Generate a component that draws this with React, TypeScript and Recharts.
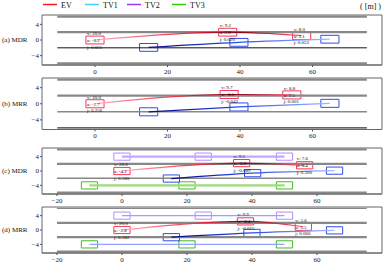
import React from "react";
import {
  ComposedChart,
  Line,
  Scatter,
  XAxis,
  YAxis,
  ReferenceLine,
  ReferenceArea,
} from "recharts";

// lane marking offsets [m]
const laneY = [6, 2, -2, -6];

// ego vehicle snapshots (x, y) per scenario
const evA = [{ x: 0, y: 0 }, { x: 36.6, y: 2 }, { x: 57, y: 1.1 }];
const evB = [{ x: 0, y: 0 }, { x: 37, y: 2.3 }, { x: 54.3, y: 2.2 }];
const evC = [{ x: 0, y: 0 }, { x: 36.8, y: 2.2 }, { x: 56.2, y: 1.6 }];
const evD = [{ x: 0, y: 0 }, { x: 38, y: 2.4 }, { x: 55.8, y: 0.9 }];

// v / a / j readouts next to each EV snapshot
const statsA = [
  { v: "20.0", a: "-0.2", j: "0.055" },
  { v: "9.2", a: "2.6", j: "0.020" },
  { v: "8.0", a: "2.1", j: "0.053" },
];
const statsB = [
  { v: "20.0", a: "-1.7", j: "0.256" },
  { v: "9.7", a: "-0.5", j: "-0.042" },
  { v: "8.8", a: "1.5", j: "0.001" },
];
const statsC = [
  { v: "20.0", a: "-4.2", j: "0.180" },
  { v: "9.5", a: "-3.2", j: "-0.089" },
  { v: "7.6", a: "0.4", j: "0.300" },
];
const statsD = [
  { v: "20.0", a: "-2.8", j: "0.182" },
  { v: "9.9", a: "-4.4", j: "-0.015" },
  { v: "5.6", a: "5.5", j: "0.060" },
];

// target vehicles
const tv1A = [{ x: 14.8, y: -1.9 }, { x: 39.7, y: -0.6 }, { x: 64.8, y: 0.2 }];
const tv1B = [{ x: 14.8, y: -2 }, { x: 39.7, y: -0.8 }, { x: 64.8, y: 0.1 }];
const tv1C = [{ x: 15.2, y: -2.1 }, { x: 40.2, y: -0.6 }, { x: 65.4, y: 0.1 }];
const tv1D = [{ x: 15.2, y: -2 }, { x: 40, y: -0.8 }, { x: 65.4, y: -0.1 }];
const tv2CD = [{ x: 0, y: 4 }, { x: 25, y: 4 }, { x: 50, y: 4 }];
const tv3CD = [{ x: -10, y: -4 }, { x: 20, y: -4 }, { x: 50, y: -4 }];

const ticksAB = [0, 20, 40, 60];
const ticksCD = [-20, 0, 20, 40, 60];
const yTicks = [-4, 0, 4];

const legendItems = [
  { name: "EV", color: "#ff1a1a" },
  { name: "TV1", color: "#44ccff" },
  { name: "TV2", color: "#9933ff" },
  { name: "TV3", color: "#33cc00" },
];

const FONT = '"Liberation Serif", "DejaVu Serif", serif';
const CAR_L = 5;
const CAR_W = 2;
const Y_DOM: [number, number] = [-6.4, 6.4];
const PAD_TOP = 4;
const X_AXIS_H = 14;

type Pt = { x: number; y: number };
type Lane = { c: string; w: number };

interface PanelCfg {
  key: string;
  label: string;
  plotTop: number;
  plotH: number;
  xDomain: [number, number];
  laneX: [number, number];
  ticks: number[];
  lanes: Lane[];
  ev: Pt[];
  stats: { v: string; a: string; j: string }[];
  tv1: Pt[];
  tv2?: Pt[];
  tv3?: Pt[];
  tv2Line?: string;
  tv3Line?: string;
  sideW?: number;
}

const gray = "#888";
const panels: PanelCfg[] = [
  {
    key: "a", label: "(a) MDR", plotTop: 14.5, plotH: 50,
    xDomain: [-14.62, 79.17], laneX: [-10.4, 75], ticks: ticksAB,
    lanes: [{ c: gray, w: 2.2 }, { c: gray, w: 2.2 }, { c: "#111", w: 1 }, { c: gray, w: 2.2 }],
    ev: evA, stats: statsA, tv1: tv1A,
  },
  {
    key: "b", label: "(b) MRR", plotTop: 78.3, plotH: 51.5,
    xDomain: [-14.62, 79.17], laneX: [-10.4, 75], ticks: ticksAB,
    lanes: [{ c: gray, w: 2.2 }, { c: gray, w: 2.2 }, { c: gray, w: 1.4 }, { c: "#333", w: 1.3 }],
    ev: evB, stats: statsB, tv1: tv1B,
  },
  {
    key: "c", label: "(c) MDR", plotTop: 147.5, plotH: 46,
    xDomain: [-24.6, 80], laneX: [-20, 75.3], ticks: ticksCD,
    lanes: [{ c: gray, w: 2.2 }, { c: gray, w: 2.2 }, { c: gray, w: 1.5 }, { c: gray, w: 2.2 }],
    ev: evC, stats: statsC, tv1: tv1C, tv2: tv2CD, tv3: tv3CD,
    tv2Line: "#c9a3ff", tv3Line: "#9edb7c", sideW: 2.2,
  },
  {
    key: "d", label: "(d) MRR", plotTop: 207, plotH: 46,
    xDomain: [-24.6, 80], laneX: [-20, 75.3], ticks: ticksCD,
    lanes: [{ c: gray, w: 1.3 }, { c: gray, w: 2.2 }, { c: gray, w: 2.2 }, { c: gray, w: 2.2 }],
    ev: evD, stats: statsD, tv1: tv1D, tv2: tv2CD, tv3: tv3CD,
    tv2Line: "#92a4ff", tv3Line: "#92a4ff", sideW: 1.2,
  },
];

const fmt = (v: number) => String(v).replace("-", "\u2212");

function Anno(props: any) {
  const { cx, cy, payload } = props;
  if (cx == null || cy == null) return null;
  const x = cx - 8;
  return (
    <g fontFamily={FONT} fontSize={5} fill="#111">
      <text x={x} y={cy - 5}>v: {payload.v}</text>
      <text x={x} y={cy + 1.8}>a: {payload.a}</text>
      <text x={x} y={cy + 8.6}>j: {payload.j}</text>
    </g>
  );
}

function boxes(pts: Pt[], color: string, id: string) {
  return pts.map((p, i) => (
    <ReferenceArea
      key={`${id}-${i}`}
      x1={p.x - CAR_L / 2}
      x2={p.x + CAR_L / 2}
      y1={p.y - CAR_W / 2}
      y2={p.y + CAR_W / 2}
      fill="none"
      fillOpacity={0}
      stroke={color}
      strokeWidth={1}
      ifOverflow="visible"
    />
  ));
}

function Panel({ cfg }: { cfg: PanelCfg }) {
  const chartH = cfg.plotH + PAD_TOP + X_AXIS_H;
  const anno = cfg.ev.map((p, i) => ({ ...p, ...cfg.stats[i] }));
  return (
    <div style={{ position: "absolute", left: 0, top: cfg.plotTop - PAD_TOP }}>
      <ComposedChart
        width={386}
        height={chartH}
        margin={{ top: PAD_TOP, right: 4, bottom: 0, left: 0 }}
      >
        <defs>
          <linearGradient id={`ev-${cfg.key}`} x1="0" y1="0" x2="1" y2="0">
            <stop offset="0%" stopColor="#ffb3c1" />
            <stop offset="45%" stopColor="#ea2442" />
            <stop offset="68%" stopColor="#7a0010" />
            <stop offset="100%" stopColor="#ff5a78" />
          </linearGradient>
          <linearGradient id={`tv1-${cfg.key}`} x1="0" y1="0" x2="1" y2="0">
            <stop offset="0%" stopColor="#0a0a80" />
            <stop offset="45%" stopColor="#2442e6" />
            <stop offset="100%" stopColor="#aab8ff" />
          </linearGradient>
        </defs>
        <XAxis
          type="number"
          dataKey="x"
          domain={cfg.xDomain}
          allowDataOverflow
          ticks={cfg.ticks}
          tickFormatter={fmt}
          height={X_AXIS_H}
          tickSize={2}
          tickMargin={2}
          tick={{ fontSize: 7, fill: "#222", fontFamily: FONT }}
          tickLine={{ stroke: "#555" }}
          axisLine={{ stroke: "#666" }}
        />
        <YAxis
          type="number"
          dataKey="y"
          domain={Y_DOM}
          allowDataOverflow
          ticks={yTicks}
          tickFormatter={fmt}
          width={42}
          tickSize={2}
          tickMargin={1}
          tick={{ fontSize: 7, fill: "#222", fontFamily: FONT }}
          tickLine={{ stroke: "#555" }}
          axisLine={false}
          label={{
            value: cfg.label,
            position: "insideLeft",
            offset: 2,
            style: { fontSize: 7, fill: "#111", fontFamily: FONT },
          }}
        />
        <ReferenceArea
          x1={cfg.xDomain[0]}
          x2={cfg.xDomain[1]}
          y1={Y_DOM[0]}
          y2={Y_DOM[1]}
          fill="none"
          fillOpacity={0}
          stroke="#666"
          strokeWidth={1}
          ifOverflow="visible"
        />
        {laneY.map((y, i) => (
          <ReferenceLine
            key={`lane-${i}`}
            segment={[{ x: cfg.laneX[0], y }, { x: cfg.laneX[1], y }]}
            stroke={cfg.lanes[i].c}
            strokeWidth={cfg.lanes[i].w}
            ifOverflow="visible"
          />
        ))}
        {cfg.tv2 && (
          <Line data={cfg.tv2} dataKey="y" type="linear" dot={false}
            stroke={cfg.tv2Line} strokeWidth={cfg.sideW} isAnimationActive={false} />
        )}
        {cfg.tv3 && (
          <Line data={cfg.tv3} dataKey="y" type="linear" dot={false}
            stroke={cfg.tv3Line} strokeWidth={cfg.sideW} isAnimationActive={false} />
        )}
        <Line data={cfg.tv1} dataKey="y" type="monotone" dot={false}
          stroke={`url(#tv1-${cfg.key})`} strokeWidth={1.2} isAnimationActive={false} />
        <Line data={cfg.ev} dataKey="y" type="monotone" dot={false}
          stroke={`url(#ev-${cfg.key})`} strokeWidth={1.2} isAnimationActive={false} />
        {cfg.tv2 && boxes(cfg.tv2, "#b38cff", `tv2-${cfg.key}`)}
        {cfg.tv3 && boxes(cfg.tv3, "#44bb22", `tv3-${cfg.key}`)}
        {boxes(cfg.tv1, "#2e4ee8", `tv1b-${cfg.key}`)}
        {boxes(cfg.ev, "#ff3355", `evb-${cfg.key}`)}
        <Scatter data={anno} dataKey="y" shape={<Anno />} isAnimationActive={false} />
      </ComposedChart>
    </div>
  );
}

export default function App() {
  return (
    <div
      style={{
        position: "absolute",
        left: 0,
        top: 0,
        width: 386,
        height: 265,
        background: "#fff",
        fontFamily: FONT,
      }}
    >
      <svg width={386} height={14} style={{ position: "absolute", left: 0, top: 0 }}>
        {legendItems.map((it, i) => {
          const starts = [43, 85, 127, 172];
          const x = starts[i];
          return (
            <g key={it.name}>
              <line x1={x} x2={x + 14} y1={4.5} y2={4.5} stroke={it.color} strokeWidth={1.5} />
              <text x={x + 18} y={7.5} fontSize={8} fill="#111" fontFamily={FONT}>
                {it.name}
              </text>
            </g>
          );
        })}
        <text x={381} y={8.5} fontSize={8} fill="#111" fontFamily={FONT} textAnchor="end">
          ( [m] )
        </text>
      </svg>
      {panels.map((p) => (
        <Panel key={p.key} cfg={p} />
      ))}
    </div>
  );
}
